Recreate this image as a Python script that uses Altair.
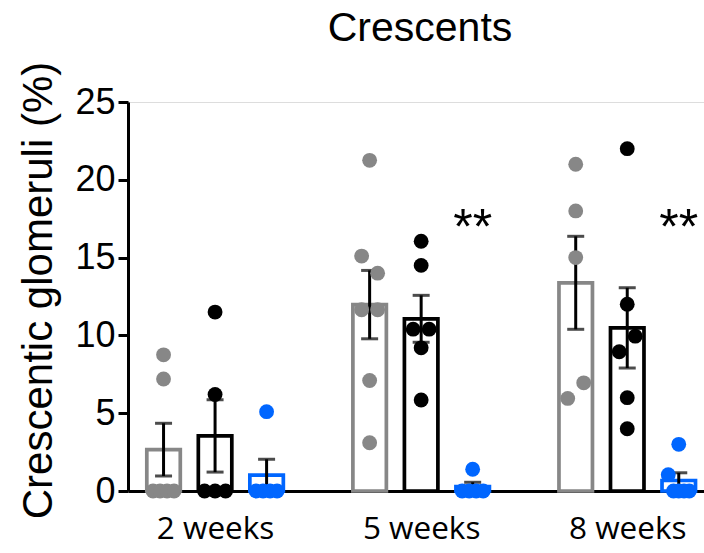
import altair as alt
import pandas as pd
import numpy as np

# Time points and cohorts
groups = ["2 weeks", "5 weeks", "8 weeks"]
cohorts = ["A", "B", "C"]
cohort_colors = ["#878787", "#000000", "#0066ff"]

# Percentage of crescentic glomeruli per animal
wk2_a = [8.75, 7.2, 0, 0, 0, 0]
wk2_b = [11.5, 6.2, 0, 0, 0]
wk2_c = [5.1, 0, 0, 0, 0]
wk5_a = [21.25, 15.1, 14.0, 11.65, 11.65, 7.1, 3.1]
wk5_b = [16.05, 14.5, 10.4, 10.4, 9.2, 5.85]
wk5_c = [1.4, 0, 0, 0, 0]
wk8_a = [21.0, 18.0, 15.0, 5.95, 6.95]
wk8_b = [22.0, 12.0, 8.95, 9.95, 6.0, 4.0]
wk8_c = [3.0, 1.05, 0, 0, 0, 0]

values = {
    ("2 weeks", "A"): wk2_a, ("2 weeks", "B"): wk2_b, ("2 weeks", "C"): wk2_c,
    ("5 weeks", "A"): wk5_a, ("5 weeks", "B"): wk5_b, ("5 weeks", "C"): wk5_c,
    ("8 weeks", "A"): wk8_a, ("8 weeks", "B"): wk8_b, ("8 weeks", "C"): wk8_c,
}

# Significance marks versus cohort A at the same time point
sig_groups = ["5 weeks", "8 weeks"]
sig_text = ["**", "**"]
sig_level = 17.5

# Layout of the plot area
W, H = 576, 389
Y_MAX = 25
X_DOMAIN = [-0.69, 10.49]
px_per_unit = H / Y_MAX
px_per_slot = W / (X_DOMAIN[1] - X_DOMAIN[0])


def slot(g, c):
    return groups.index(g) * 4 + cohorts.index(c)


def swarm(vals):
    """Spread points that would overlap into centred rows (offsets in px)."""
    order = sorted(range(len(vals)), key=lambda i: -vals[i])
    rows, cur = [], []
    for i in order:
        if cur and (vals[cur[-1]] - vals[i]) * px_per_unit < 18:
            cur.append(i)
        else:
            if cur:
                rows.append(cur)
            cur = [i]
    rows.append(cur)
    off = [0.0] * len(vals)
    for r in rows:
        r = sorted(r)
        k = len(r)
        step = 16.0 if k == 2 else min(16.0, 21.0 / max(k - 1, 1))
        for j, i in enumerate(r):
            off[i] = (j - (k - 1) / 2) * step
    return off


pts, summ = [], []
for (g, c), v in values.items():
    s = slot(g, c)
    offs = swarm(v)
    for val, o in zip(v, offs):
        pts.append({"group": g, "cohort": c, "x": s + o / px_per_slot, "v": val})
    arr = np.array(v, dtype=float)
    m = arr.mean()
    se = arr.std(ddof=1) / np.sqrt(len(arr))
    summ.append({"group": g, "cohort": c, "x": s, "xl": s - 0.325, "xr": s + 0.325,
                 "zero": 0.0, "mean": m, "lo": m - se, "hi": m + se})

pts = pd.DataFrame(pts)
summ = pd.DataFrame(summ)
sig = pd.DataFrame({"x": [slot(g, "C") for g in sig_groups], "v": [sig_level] * len(sig_groups),
                    "t": sig_text})

label_expr = "[" + ",".join("'%s'" % g for g in groups) + "][(datum.value - 1) / 4]"

x_axis = alt.Axis(values=[1, 5, 9], labelExpr=label_expr, ticks=False, grid=False,
                  domainColor="black", domainWidth=3, labelFont="Open Sans",
                  labelFontSize=31.5, labelColor="black", labelPadding=22, title=None)
y_axis = alt.Axis(values=[0, 5, 10, 15, 20, 25], tickSize=10, tickWidth=3, tickColor="black",
                  domainColor="black", domainWidth=3, labelFont="Liberation Sans",
                  labelFontSize=36, labelColor="black", labelPadding=3, grid=False,
                  title="Crescentic glomeruli (%)", titleFont="Liberation Sans",
                  titleFontSize=42, titleFontWeight="normal", titleColor="black",
                  titlePadding=14, titleY=188)
x_scale = alt.Scale(domain=X_DOMAIN, nice=False, zero=False)
y_scale = alt.Scale(domain=[0, Y_MAX], nice=False)
color = alt.Color("cohort:N", scale=alt.Scale(domain=cohorts, range=cohort_colors), legend=None)

bars = alt.Chart(summ).mark_bar(fill="white", strokeWidth=3.7).encode(
    x=alt.X("xl:Q", scale=x_scale, axis=x_axis),
    x2="xr:Q",
    y=alt.Y("zero:Q", scale=y_scale, axis=y_axis),
    y2="mean:Q",
    stroke=alt.Stroke("cohort:N", scale=alt.Scale(domain=cohorts, range=cohort_colors), legend=None),
)

stems = alt.Chart(summ).mark_rule(color="black", strokeWidth=3).encode(
    x="x:Q", y="lo:Q", y2="hi:Q")
caps_hi = alt.Chart(summ).mark_tick(color="black", orient="horizontal", size=17, thickness=3).encode(
    x="x:Q", y="hi:Q")
caps_lo = alt.Chart(summ).mark_tick(color="black", orient="horizontal", size=17, thickness=3).encode(
    x="x:Q", y="lo:Q")

dots = alt.Chart(pts).mark_circle(size=220, opacity=1).encode(
    x="x:Q", y="v:Q", color=color)

stars = alt.Chart(sig).mark_text(font="Liberation Sans", fontSize=50, baseline="middle",
                                 align="center", color="black", dy=10).encode(
    x="x:Q", y="v:Q", text="t:N")

chart = alt.layer(bars, stems, caps_hi, caps_lo, dots, stars).properties(
    width=W, height=H,
    title=alt.TitleParams("Crescents", font="Liberation Sans", fontSize=41,
                          fontWeight="normal", color="black", anchor="middle", dx=4, dy=-7),
    autosize=alt.AutoSizeParams(type="none"),
    padding={"left": 128, "top": 102, "right": 0, "bottom": 62},
).configure_view(stroke=None).configure(background="white")

chart.save("out.html", embed_options={"renderer": "svg", "actions": False})
